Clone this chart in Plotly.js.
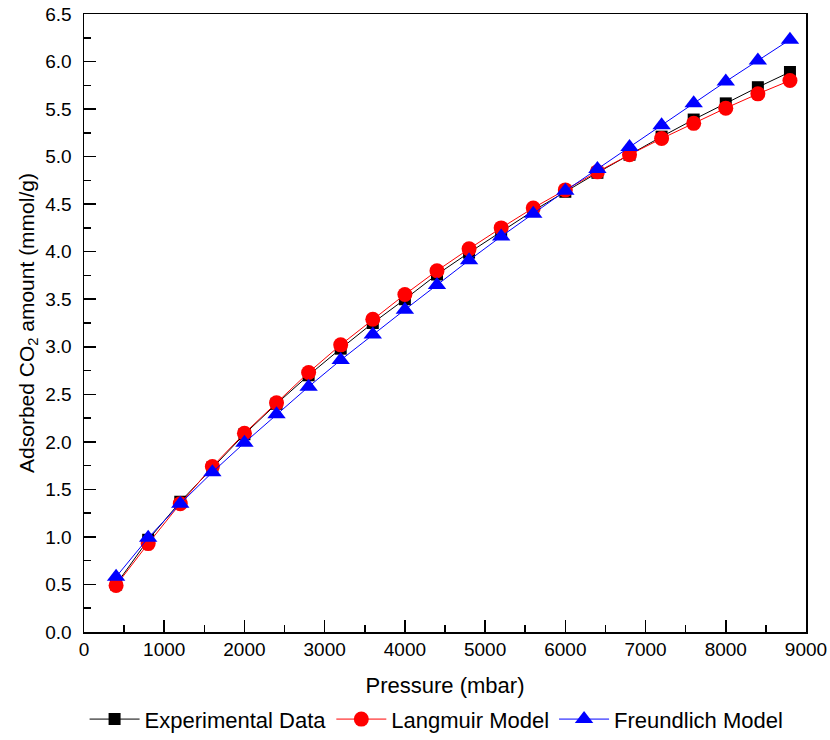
<!DOCTYPE html>
<html>
<head>
<meta charset="utf-8">
<script src="https://cdn.plot.ly/plotly-3.0.1.min.js"></script>
<style>html,body{margin:0;padding:0;background:#fff;}#chart{width:830px;height:740px;}</style>
</head>
<body>
<div id="chart"></div>
<script>
const pressure = [400, 800, 1200, 1600, 2000, 2400, 2800, 3200, 3600, 4000, 4400, 4800, 5200, 5600, 6000, 6400, 6800, 7200, 7600, 8000, 8400, 8800];
const experimental = [0.50, 0.97, 1.37, 1.73, 2.08, 2.40, 2.70, 2.98, 3.25, 3.50, 3.76, 3.99, 4.21, 4.43, 4.63, 4.83, 5.02, 5.21, 5.39, 5.56, 5.73, 5.89];
const langmuir = [0.49, 0.93, 1.35, 1.74, 2.09, 2.41, 2.73, 3.02, 3.29, 3.55, 3.80, 4.03, 4.25, 4.46, 4.65, 4.84, 5.02, 5.19, 5.35, 5.51, 5.66, 5.80];
const freundlich = [0.58, 0.99, 1.35, 1.68, 1.99, 2.29, 2.58, 2.86, 3.13, 3.39, 3.65, 3.91, 4.16, 4.40, 4.64, 4.87, 5.10, 5.33, 5.56, 5.79, 6.01, 6.23];
const seriesNames = ["Experimental Data", "Langmuir Model", "Freundlich Model"];

const traces = [
  {x: pressure, y: experimental, name: seriesNames[0], mode: "lines+markers",
   line: {color: "#000000", width: 1}, marker: {symbol: "square", size: 12, color: "#000000"}},
  {x: pressure, y: langmuir, name: seriesNames[1], mode: "lines+markers",
   line: {color: "#ff0000", width: 1}, marker: {symbol: "circle", size: 15, color: "#ff0000"}},
  {x: pressure, y: freundlich, name: seriesNames[2], mode: "lines+markers",
   line: {color: "#0000ff", width: 1}, marker: {symbol: "triangle-up", size: 16, color: "#0000ff"}}
];

const layout = {
  width: 830, height: 740,
  margin: {l: 84, r: 24, t: 14, b: 108},
  paper_bgcolor: "#fff", plot_bgcolor: "#fff",
  font: {family: "Liberation Sans, Arial, sans-serif", size: 19, color: "#000"},
  showlegend: true,
  legend: {orientation: "h", x: 0.526, xanchor: "center", xref: "container",
           y: 0.028, yanchor: "middle", yref: "container",
           itemwidth: 50,
           font: {size: 22}, tracegroupgap: 0},
  xaxis: {
    range: [0, 9000], dtick: 1000, tick0: 0,
    showgrid: false, zeroline: false,
    showline: true, linecolor: "#000", linewidth: 1.5, mirror: true,
    ticks: "inside", ticklen: 12, tickwidth: 1.5, tickcolor: "#000",
    minor: {dtick: 500, ticks: "inside", ticklen: 7, tickwidth: 1.5, tickcolor: "#000", showgrid: false},
    tickfont: {size: 19},
    title: {text: "Pressure (mbar)", font: {size: 22}, standoff: 20}
  },
  yaxis: {
    range: [0, 6.5], dtick: 0.5, tick0: 0, tickformat: ".1f",
    showgrid: false, zeroline: false,
    showline: true, linecolor: "#000", linewidth: 1.5, mirror: true,
    ticks: "inside", ticklen: 12, tickwidth: 1.5, tickcolor: "#000",
    minor: {dtick: 0.25, ticks: "inside", ticklen: 7, tickwidth: 1.5, tickcolor: "#000", showgrid: false},
    tickfont: {size: 19}, ticklabelstandoff: 7,
    title: {text: "Adsorbed CO<sub>2</sub> amount (mmol/g)", font: {size: 21}, standoff: 5}
  }
};

Plotly.newPlot("chart", traces, layout, {displayModeBar: false, staticPlot: true});
</script>
</body>
</html>
